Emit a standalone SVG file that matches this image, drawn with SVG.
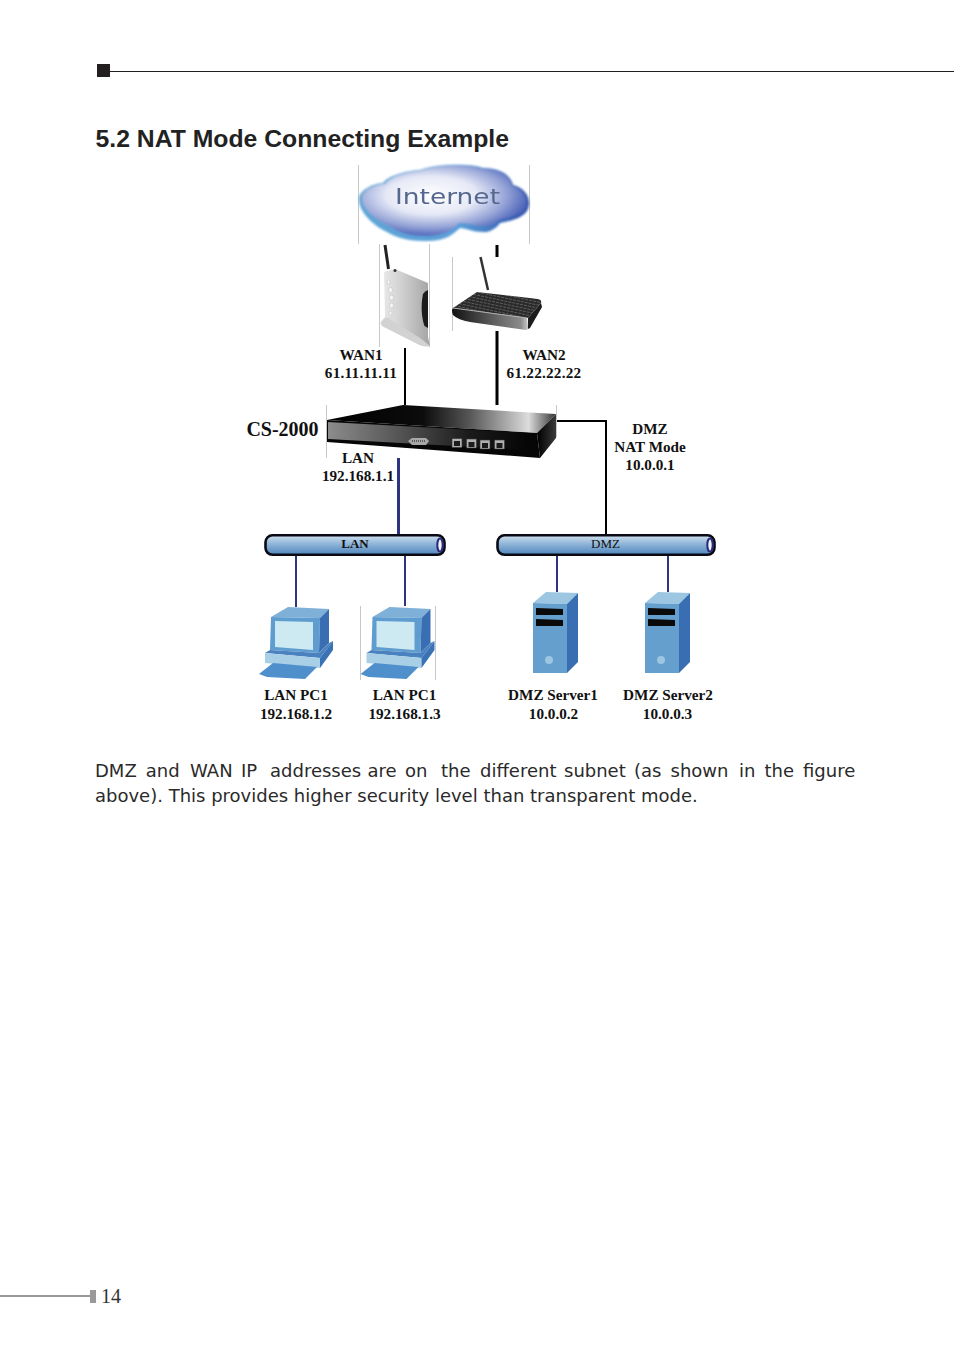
<svg xmlns="http://www.w3.org/2000/svg" width="954" height="1354" viewBox="0 0 954 1354">
<style>
.lbl{font-family:"Liberation Serif","Times New Roman",serif;font-weight:bold;font-size:15.2px;fill:#111;text-anchor:middle}
.body{font-family:"DejaVu Sans",Verdana,sans-serif;font-size:18px;fill:#2a2a2a}
.edge{fill:none;stroke:#c8c8c8;stroke-width:1}
.k{fill:none;stroke:#000}
.n{fill:none;stroke:#2e3480;stroke-width:2}
.bus{fill:url(#busG);stroke:#0a0a14;stroke-width:2.6}
.end{fill:#eef2fa;stroke:#2a2a78;stroke-width:2}
.port{fill:#b0b0b0;stroke:#333;stroke-width:.6}
.buslbl{font-size:13px}
</style>
<defs>
<filter id="soft" x="-5%" y="-5%" width="110%" height="110%"><feGaussianBlur stdDeviation=".9"/></filter>
<filter id="soft2" x="-5%" y="-20%" width="110%" height="140%"><feGaussianBlur stdDeviation=".45"/></filter>
<linearGradient id="busG" x1="0" y1="0" x2="0" y2="1"><stop offset="0" stop-color="#cfe0ee"/><stop offset=".45" stop-color="#8fb4d8"/><stop offset="1" stop-color="#4f86bd"/></linearGradient>
<radialGradient id="cloudG" cx=".42" cy=".42" r=".68"><stop offset="0" stop-color="#ffffff"/><stop offset=".4" stop-color="#e6e9f6"/><stop offset=".66" stop-color="#98a6d8"/><stop offset=".86" stop-color="#4f66ba"/><stop offset="1" stop-color="#2a44a2"/></radialGradient>
<linearGradient id="rimG" x1="0" y1="0" x2="1" y2="0"><stop offset="0" stop-color="#5fa6d6"/><stop offset=".6" stop-color="#5a9ed8"/><stop offset="1" stop-color="#2a4ba8"/></linearGradient>
<linearGradient id="topG" x1="0" y1="0" x2="1" y2="0"><stop offset="0" stop-color="#000"/><stop offset=".42" stop-color="#0c0c0c"/><stop offset=".62" stop-color="#555"/><stop offset=".88" stop-color="#dcdcdc"/><stop offset="1" stop-color="#333"/></linearGradient>
<linearGradient id="frontG" x1="0" y1="0" x2="1" y2="0"><stop offset="0" stop-color="#8c8c8c"/><stop offset=".35" stop-color="#555"/><stop offset=".7" stop-color="#1a1a1a"/><stop offset="1" stop-color="#050505"/></linearGradient>
<linearGradient id="sideG" x1="0" y1="0" x2="1" y2="0"><stop offset="0" stop-color="#000"/><stop offset="1" stop-color="#3a3a3a"/></linearGradient>
<linearGradient id="modemG" x1="0" y1="0" x2="1" y2="0"><stop offset="0" stop-color="#ececec"/><stop offset=".45" stop-color="#cfcfcf"/><stop offset="1" stop-color="#a4a4a4"/></linearGradient>
<linearGradient id="routerG" x1="0" y1="0" x2="1" y2="0"><stop offset="0" stop-color="#111"/><stop offset=".6" stop-color="#666"/><stop offset=".9" stop-color="#8a8a8a"/><stop offset="1" stop-color="#ccc"/></linearGradient>
<pattern id="grate" width="4" height="3" patternUnits="userSpaceOnUse" patternTransform="rotate(12)"><rect width="4" height="3" fill="#2a2a2a"/><rect width="3" height="1" fill="#5c5c5c"/></pattern>
<g id="pc">
<path d="M271 617L288 607L329 609L320 618Z" fill="#7fb0d8"/>
<path d="M271 617L320 618L319 653L270 650Z" fill="#5f9ccf"/>
<path d="M320 618L329 609L329 643L319 653Z" fill="#3a6eb2"/>
<path d="M275 621L313 622L313 650L275 647Z" fill="#cdeaf2"/>
<path d="M265 653L270 650L319 653L329 643L333 641L320 658Z" fill="#4a82c0"/>
<path d="M265 653L320 658L320 668L265 663Z" fill="#a8cfe6"/>
<path d="M320 658L333 641L333 650L320 668Z" fill="#3a72b6"/>
<path d="M259 674L273 663L317 667L305 679L267 677Z" fill="#4f8fcb"/>
</g>
<g id="srv">
<path d="M533 603L546 592L578 593L567 604Z" fill="#9cc6e2"/>
<path d="M533 603L567 604L567 673L533 673Z" fill="#659fce"/>
<path d="M567 604L578 593L578 662L567 673Z" fill="#3a6eb2"/>
<path d="M536 608L563 609L563 615L536 615Z" fill="#0a0a0a"/>
<path d="M536 619L563 620L563 626L536 626Z" fill="#0a0a0a"/>
<circle cx="549" cy="660" r="4" fill="#9cc6e2"/>
</g>
</defs>
<rect width="954" height="1354" fill="#fff"/>

<g id="page-furniture">
<rect x="97" y="64" width="13" height="13" fill="#231f20"/>
<line x1="110" y1="71.500" x2="954" y2="71.500" stroke="#231f20" stroke-width="1"/>
<text x="95.500" y="147" font-family="'Liberation Sans',Arial,sans-serif" font-weight="bold" font-size="24.750px" fill="#222">5.2 NAT Mode Connecting Example</text>
<line x1="0" y1="1296" x2="90" y2="1296" stroke="#999" stroke-width="2"/>
<rect x="90" y="1290" width="6" height="13" fill="#999"/>
<text x="101" y="1303" font-family="'Liberation Serif',serif" font-size="20px" fill="#333">14</text>
</g>

<g id="connectors">
<path class="k" stroke-width="2" d="M405 348V405"/>
<path class="k" stroke-width="3" d="M497 331V405"/>
<path class="k" stroke-width="3" d="M497 245V257"/>
<path class="k" stroke-width="2" d="M557 421H606V535"/>
<path class="n" style="stroke-width:3" d="M398.500 458V535"/>
<path class="n" d="M296 555V607"/>
<path class="n" d="M405 555V606"/>
<path class="n" d="M557 555V592"/>
<path class="n" d="M668 555V592"/>
</g>

<g id="internet">
<path class="edge" d="M358.500 165V244M529.500 165V244"/>
<g filter="url(#soft)">
<path d="M359 198C360 190 372 184 383 183C388 176 405 171 420 170C435 164 470 163 483 168C497 168 510 173 513 185C522 187 529 194 529 203C529 213 522 219 500 223C496 229 488 233 483 232C472 232 466 228 460 228C452 235 446 241 425 241C405 241 393 236 387 232C376 227 358 213 359 198Z" fill="url(#rimG)"/>
<path d="M362 197C363 190 374 185 385 184C390 177 405 172 420 171C435 165 470 164 483 169C497 169 509 174 512 186C520 188 527 195 527 203C527 212 520 216 498 220C494 225 488 227 483 226C472 226 466 222 459 223C452 230 444 236 425 236C407 236 396 231 389 226C378 221 361 210 362 197Z" fill="url(#cloudG)"/>
</g>
<text x="395" y="204" filter="url(#soft2)" font-family="'DejaVu Sans',sans-serif" font-size="21px" textLength="105" lengthAdjust="spacingAndGlyphs" fill="#56688f">Internet</text>
</g>

<g id="modem">
<path class="edge" d="M379.500 244V347M429.500 244V347"/>
<path d="M385 245L388.500 269" stroke="#222" stroke-width="3" fill="none"/>
<path d="M384 273Q384 271 387 271L395 269L428 283L428 337L430 346Q424 347 420 345L382 326Q379 324 381 321L385 317Z" fill="url(#modemG)"/>
<path d="M423 294Q425 291 428 290L428 328L424.500 326C421 316 421 304 423 294Z" fill="#1c1c1c"/>
<path d="M381 322L386 317L420 338L430 346Q424 347 420 345L382 326Z" fill="#d2d2d2"/>
<circle cx="395" cy="270.500" r="1.500" fill="#333"/>
<g fill="#f6f6f6" stroke="#bdbdbd" stroke-width=".5"><ellipse cx="388.500" cy="282" rx="1.500" ry="2"/><ellipse cx="390.500" cy="290" rx="2" ry="2.500"/><ellipse cx="391.500" cy="297.500" rx="2" ry="2.500"/><ellipse cx="391.500" cy="305.500" rx="2" ry="2.500"/><ellipse cx="390.500" cy="313" rx="1.500" ry="2"/><circle cx="390" cy="318.500" r="1"/></g>
</g>

<g id="router">
<path class="edge" d="M452.500 257V331"/>
<path d="M480.500 257L488 290" stroke="#333" stroke-width="2.500" fill="none"/>
<path d="M453 308L477 292L538 299Q542 300 541 303L528 318Z" fill="url(#grate)"/>
<path d="M453 308Q451 310 453 315Q458 320 470 322L526 330Q529 330 528 326L527 318Z" fill="url(#routerG)"/>
<path d="M453 308L527 318" stroke="#aaa" stroke-width="1" fill="none"/>
<path d="M528 318L541 303L542 307L530 328L528 329Z" fill="#1c1c1c"/>
</g>

<g id="cs2000">
<path class="edge" d="M326.500 405V458M556.500 405V437"/>
<path d="M327 420L403 405L556 414L537 433Z" fill="url(#topG)"/>
<path d="M327 420L537 433L540 458L327 442Z" fill="#060606"/>
<path d="M328 422L530 433L528 450L328 439Z" fill="url(#frontG)"/>
<path d="M537 433L556 414L556 438L540 458Z" fill="url(#sideG)"/>
<path d="M408 441L412 438H426L429 441L426 445H412Z" fill="#a8a8a8"/>
<path d="M412 441H425" stroke="#444" stroke-width="1.500" stroke-dasharray="1 1"/>
<rect class="port" x="452" y="438.500" width="10" height="9"/><rect class="port" x="466.500" y="439" width="10" height="9"/><rect class="port" x="480" y="440" width="10" height="9"/><rect class="port" x="494.500" y="440" width="10" height="9"/>
<path d="M454 441H460V446H454ZM468.500 442H474.500V447H468.500ZM482 443H488V448H482ZM496.500 443H502.500V448H496.500Z" fill="#1c1c1c"/>
<text class="lbl" x="282.500" y="436" style="font-size:20px">CS-2000</text>
</g>

<g id="wan1-label"><text class="lbl" x="361" y="360">WAN1</text><text class="lbl" x="361" y="378" style="letter-spacing:.25px">61.11.11.11</text></g>
<g id="wan2-label"><text class="lbl" x="544" y="360">WAN2</text><text class="lbl" x="544" y="378" style="letter-spacing:.25px">61.22.22.22</text></g>
<g id="lan-label"><text class="lbl" x="358" y="463">LAN</text><text class="lbl" x="358" y="481">192.168.1.1</text></g>
<g id="dmz-label"><text class="lbl" x="650" y="434">DMZ</text><text class="lbl" x="650" y="452">NAT Mode</text><text class="lbl" x="650" y="470">10.0.0.1</text></g>

<g id="lan-bus">
<rect class="bus" x="265.500" y="535.300" width="179" height="19.500" rx="7"/>
<ellipse class="end" cx="440" cy="545" rx="2.700" ry="6.500"/>
<text class="lbl buslbl" x="355" y="548" style="font-size:13px">LAN</text>
</g>
<g id="dmz-bus">
<rect class="bus" x="497.500" y="535.300" width="217" height="19.500" rx="7"/>
<ellipse class="end" cx="710" cy="545" rx="2.700" ry="6.500"/>
<text class="lbl buslbl" x="605.500" y="548" style="font-size:13px;font-weight:normal">DMZ</text>
</g>

<g id="lan-pc1"><use href="#pc"/><text class="lbl" x="296" y="700">LAN PC1</text><text class="lbl" x="296" y="719">192.168.1.2</text></g>
<g id="lan-pc2"><path class="edge" d="M360.500 606V680M435.500 606V680"/><use href="#pc" x="101.500"/><text class="lbl" x="404.500" y="700">LAN PC1</text><text class="lbl" x="404.500" y="719">192.168.1.3</text></g>
<g id="dmz-server1"><use href="#srv"/><text class="lbl" x="553" y="700">DMZ Server1</text><text class="lbl" x="553.500" y="719">10.0.0.2</text></g>
<g id="dmz-server2"><use href="#srv" x="112"/><text class="lbl" x="668" y="700">DMZ Server2</text><text class="lbl" x="667.500" y="719">10.0.0.3</text></g>

<g id="body-text">
<text class="body" y="777"><tspan x="95">DMZ</tspan> <tspan x="145.800">and</tspan> <tspan x="190">WAN</tspan> <tspan x="241">IP</tspan> <tspan x="270">addresses</tspan> <tspan x="367.500">are</tspan> <tspan x="405">on</tspan> <tspan x="441">the</tspan> <tspan x="480">different</tspan> <tspan x="564">subnet</tspan> <tspan x="634">(as</tspan> <tspan x="670.500">shown</tspan> <tspan x="739">in</tspan> <tspan x="764.500">the</tspan> <tspan x="803">figure</tspan></text>
<text class="body" x="95" y="802">above). This provides higher security level than transparent mode.</text>
</g>
</svg>
